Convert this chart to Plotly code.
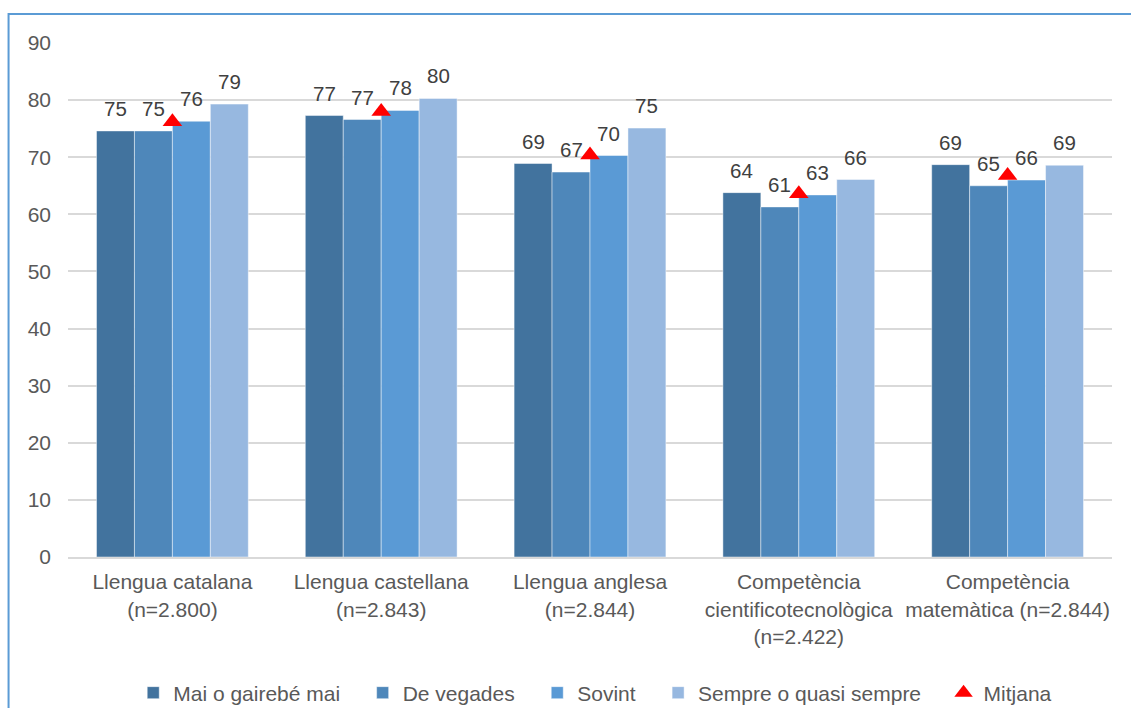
import plotly.graph_objects as go

categories = [
    "Llengua catalana<br>(n=2.800)",
    "Llengua castellana<br>(n=2.843)",
    "Llengua anglesa<br>(n=2.844)",
    "Competència<br>cientificotecnològica<br>(n=2.422)",
    "Competència<br>matemàtica (n=2.844)",
]
series_names = ["Mai o gairebé mai", "De vegades", "Sovint", "Sempre o quasi sempre"]
mai = [74.6, 77.3, 68.9, 63.8, 68.7]
vegades = [74.6, 76.6, 67.4, 61.3, 65.0]
sovint = [76.3, 78.2, 70.3, 63.4, 66.0]
sempre = [79.3, 80.3, 75.1, 66.1, 68.6]
mitjana = [76.2, 78.0, 70.4, 63.6, 66.8]
series_values = [mai, vegades, sovint, sempre]
colors = ["#42739E", "#4E87BA", "#5A9AD5", "#97B8E0"]

W, H = 1131, 708
ML, MR, MT, MB = 67.5, 18.5, 43, 151
BARGAP = 0.273
FONT = "Liberation Sans, Arial, sans-serif"
PAD = "\u00a0\u00a0\u00a0"

fig = go.Figure()
for name, vals, col in zip(series_names, series_values, colors):
    fig.add_trace(go.Bar(
        x=categories, y=vals, name=name + PAD,
        marker=dict(color=col, line=dict(color="rgba(255,255,255,0.45)", width=1)),
    ))
fig.add_trace(go.Scatter(
    x=categories, y=mitjana, name="Mitjana", mode="markers",
    marker=dict(symbol="triangle-up", size=17, color="#FF0000"),
))

# data labels above bars
plot_w = W - ML - MR
cat_px = plot_w / len(categories)
bar_px = cat_px * (1 - BARGAP) / len(series_values)
for i, vals in enumerate(series_values):
    off = (i - (len(series_values) - 1) / 2) * bar_px
    for c, v in zip(categories, vals):
        fig.add_annotation(
            x=c, y=v, xref="x", yref="y", text=f"{round(v):d}",
            showarrow=False, xshift=off, yshift=9, yanchor="bottom",
            font=dict(family=FONT, size=20.5, color="#404040"),
        )

plot_h = H - MT - MB
fig.add_shape(
    type="rect", xref="paper", yref="paper",
    x0=(8 - ML) / plot_w, x1=(W + 10 - ML) / plot_w,
    y0=-(H + 10 - MT - plot_h) / plot_h, y1=1 + (MT - 14) / plot_h,
    line=dict(color="#5B9BD5", width=2), fillcolor="rgba(0,0,0,0)", layer="below",
)

fig.update_layout(
    width=W, height=H,
    margin=dict(l=ML, r=MR, t=MT, b=MB, autoexpand=False),
    paper_bgcolor="white", plot_bgcolor="white",
    barmode="group", bargap=BARGAP, bargroupgap=0,
    font=dict(family=FONT, size=21, color="#595959"),
    showlegend=True,
    legend=dict(
        orientation="h", x=0.505, xanchor="center", y=(MB - (H - 693)) / -plot_h,
        yanchor="middle", font=dict(family=FONT, size=21, color="#595959"),
        itemwidth=30,
    ),
    xaxis=dict(
        showgrid=False, showline=True, linecolor="#D9D9D9", linewidth=2,
        ticks="", tickfont=dict(family=FONT, size=21, color="#595959"),
        ticklabelstandoff=5,
    ),
    yaxis=dict(
        range=[0, 90], dtick=10, showgrid=True, gridcolor="#D9D9D9", gridwidth=1.5,
        zeroline=False, showline=False, ticks="",
        tickfont=dict(family=FONT, size=21, color="#595959"),
        ticklabelstandoff=16,
    ),
)

fig.write_html(
    "out.html",
    config={"displayModeBar": False},
    post_script="document.body.style.margin='0';document.body.style.overflow='hidden';",
)
